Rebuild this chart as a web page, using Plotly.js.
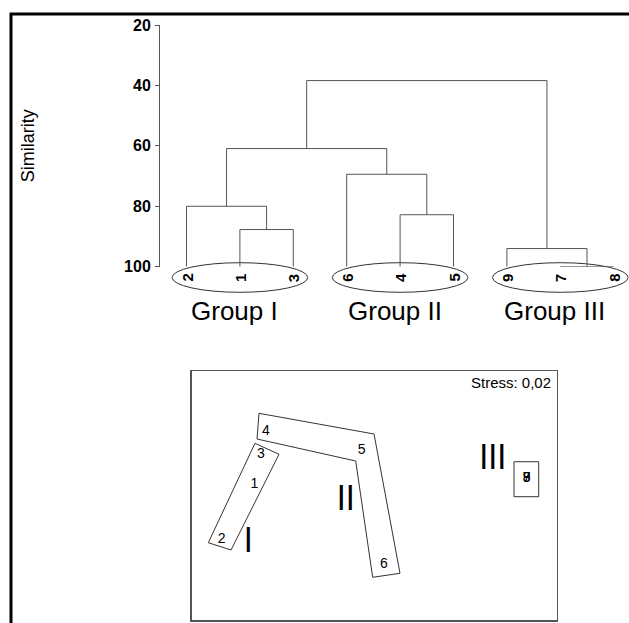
<!DOCTYPE html>
<html>
<head>
<meta charset="utf-8">
<script src="https://cdn.plot.ly/plotly-3.0.1.min.js"></script>
<style>html,body{margin:0;padding:0;background:#fff;}#chart{width:629px;height:623px;}</style>
</head>
<body>
<div id="chart"></div>
<script>
// ---- Dendrogram data ----
const leaves = ['2', '1', '3', '6', '4', '5', '9', '7', '8'];
// merges: nodes 0..8 are leaves (in plotted order), 9.. are merge nodes
const mergeA = [7, 6, 1, 4, 0, 3, 13, 15];
const mergeB = [8, 9, 2, 5, 11, 12, 14, 10];
const mergeSim = [100, 94, 87.7, 82.8, 80, 69.4, 60.9, 38.4];
const simTicks = [20, 40, 60, 80, 100];

const groupNames = ['Group I', 'Group II', 'Group III'];
const groupFirst = [1, 4, 7];   // leaf positions
const groupLast = [3, 6, 9];

// ---- nMDS data ----
const mdsLabels = ['1', '2', '3', '4', '5', '6', '7', '8', '9'];
const mdsX = [17.15, 8.22, 18.99, 20.36, 46.58, 52.68, 91.78, 91.78, 91.78];
const mdsY = [54.62, 32.53, 66.27, 75.62, 67.99, 22.49, 56.91, 56.91, 56.91];
const hullIX = [17.34, 23.92, 10.77, 4.55];
const hullIY = [70.96, 66.55, 28.11, 31.04];
const hullIIX = [18.44, 49.95, 57.07, 49.59, 44.93, 17.89];
const hullIIY = [83.01, 74.70, 18.76, 17.15, 63.86, 72.69];
const hullIIIX = [88.30, 95.07, 95.07, 88.30];
const hullIIIY = [63.57, 63.57, 49.52, 49.52];
const romanText = ['I', 'II', 'III'];
const romanX = [15.51, 42.19, 82.47];
const romanY = [30.80, 47.51, 63.98];
const stressText = 'Stress: 0,02';

// ---- build dendrogram links ----
const nodeX = leaves.map((_, i) => i + 1);
const nodeH = leaves.map(() => 100);
const linkX = [], linkY = [];
for (let k = 0; k < mergeA.length; k++) {
  const a = mergeA[k], b = mergeB[k], h = mergeSim[k];
  linkX.push(nodeX[a], nodeX[a], nodeX[b], nodeX[b], null);
  linkY.push(nodeH[a], h, h, nodeH[b], null);
  nodeX.push((nodeX[a] + nodeX[b]) / 2);
  nodeH.push(h);
}

const W = 629, H = 623;
const px = v => v / W;
const py = v => 1 - v / H;
const FONT = 'Liberation Sans, Arial, sans-serif';

function closed(arr) { return arr.concat([arr[0]]); }

const traces = [
  {x: linkX, y: linkY, xaxis: 'x', yaxis: 'y', mode: 'lines', type: 'scatter',
   line: {color: '#555', width: 1}, cliponaxis: false, hoverinfo: 'skip', showlegend: false},
  {x: closed(hullIX), y: closed(hullIY), xaxis: 'x2', yaxis: 'y2', mode: 'lines', type: 'scatter',
   line: {color: '#333', width: 1}, hoverinfo: 'skip', showlegend: false},
  {x: closed(hullIIX), y: closed(hullIIY), xaxis: 'x2', yaxis: 'y2', mode: 'lines', type: 'scatter',
   line: {color: '#333', width: 1}, hoverinfo: 'skip', showlegend: false},
  {x: closed(hullIIIX), y: closed(hullIIIY), xaxis: 'x2', yaxis: 'y2', mode: 'lines', type: 'scatter',
   line: {color: '#333', width: 1}, hoverinfo: 'skip', showlegend: false},
  {x: mdsX, y: mdsY, text: mdsLabels, xaxis: 'x2', yaxis: 'y2', mode: 'text', type: 'scatter',
   textfont: {family: FONT, size: 14, color: '#000'}, showlegend: false},
  {x: romanX, y: romanY, text: romanText, xaxis: 'x2', yaxis: 'y2', mode: 'text', type: 'scatter',
   textfont: {family: 'Liberation Sans Narrow, Arial Narrow, DejaVu Sans Condensed, sans-serif', size: 34, color: '#000'},
   showlegend: false}
];

const annotations = [];
leaves.forEach((lab, i) => {
  annotations.push({x: i + 1, xref: 'x', y: py(278), yref: 'paper', text: lab, textangle: -90,
    showarrow: false, xanchor: 'center', yanchor: 'middle',
    font: {family: FONT, size: 15, weight: 'bold', color: '#000'}});
});
const shapes = [];
groupNames.forEach((g, i) => {
  const c = (groupFirst[i] + groupLast[i]) / 2;
  annotations.push({x: c - 0.1, xref: 'x', y: py(311), yref: 'paper', text: g, showarrow: false,
    xanchor: 'center', yanchor: 'middle', font: {family: FONT, size: 26, color: '#000'}});
  shapes.push({type: 'circle', xref: 'x', yref: 'paper', x0: c - 1.27, x1: c + 1.27,
    y0: py(292.3), y1: py(262.7), line: {color: '#333', width: 1}, layer: 'below'});
});
annotations.push({x: 0.989, xref: 'x2 domain', y: 0.953, yref: 'y2 domain', text: stressText,
  showarrow: false, xanchor: 'right', yanchor: 'middle', font: {family: FONT, size: 15, color: '#000'}});

// outer frame (left and top edges)
shapes.push({type: 'path', xref: 'paper', yref: 'paper',
  path: 'M ' + px(11) + ',-0.02 L ' + px(11) + ',' + py(14) + ' L 1.02,' + py(14),
  line: {color: '#000', width: 3}});

const layout = {
  width: W, height: H,
  margin: {l: 0, r: 0, t: 0, b: 0},
  paper_bgcolor: '#fff', plot_bgcolor: 'rgba(0,0,0,0)',
  showlegend: false,
  xaxis: {domain: [px(160), 1], range: [0.5037, 9.2865], showline: false, showgrid: false,
    zeroline: false, showticklabels: false, ticks: '', fixedrange: true},
  yaxis: {domain: [py(266.7), py(25)], range: [100, 20], tickvals: simTicks,
    showline: true, linecolor: '#555', linewidth: 1, ticks: 'outside', ticklen: 4, tickcolor: '#555',
    ticklabelstandoff: 1,
    showgrid: false, zeroline: false, fixedrange: true,
    tickfont: {family: FONT, size: 16, weight: 'bold', color: '#000'},
    title: {text: 'Similarity', standoff: 84, font: {family: FONT, size: 18, color: '#000'}}},
  xaxis2: {domain: [px(191.7), px(556.7)], range: [0, 100], anchor: 'y2', showline: true, mirror: true,
    linecolor: '#555', linewidth: 1.5, showgrid: false, zeroline: false, showticklabels: false, ticks: '', fixedrange: true},
  yaxis2: {domain: [py(620), py(371)], range: [0, 100], anchor: 'x2', showline: true, mirror: true,
    linecolor: '#555', linewidth: 1.5, showgrid: false, zeroline: false, showticklabels: false, ticks: '', fixedrange: true},
  annotations: annotations,
  shapes: shapes
};

Plotly.newPlot('chart', traces, layout, {displayModeBar: false, staticPlot: true});
</script>
</body>
</html>
